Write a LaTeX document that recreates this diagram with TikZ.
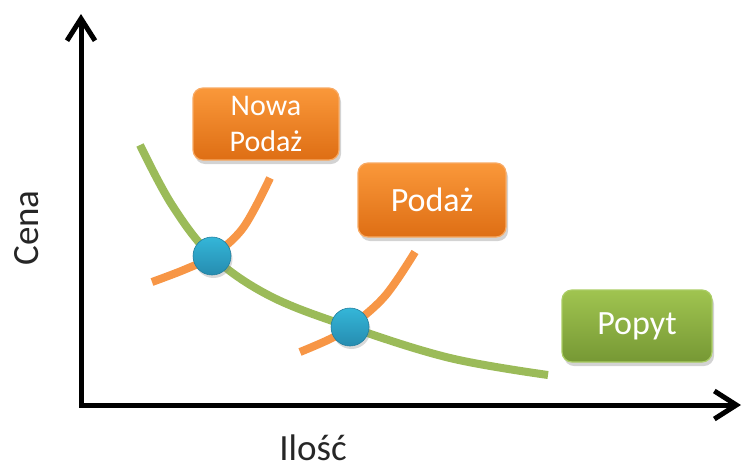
\documentclass[tikz,border=0pt]{standalone}
\usepackage{fontspec}
\setmainfont{Carlito}
\usetikzlibrary{arrows.meta,shadows}
\definecolor{supplyc}{RGB}{247,150,70}
\definecolor{demandc}{RGB}{155,187,89}
\definecolor{orgtop}{RGB}{250,152,58}
\definecolor{orgbot}{RGB}{222,110,20}
\definecolor{orgline}{RGB}{248,170,100}
\definecolor{grntop}{RGB}{160,196,80}
\definecolor{grnbot}{RGB}{118,152,52}
\definecolor{grnline}{RGB}{170,205,100}
\definecolor{blutop}{RGB}{52,182,216}
\definecolor{blubot}{RGB}{38,140,176}
\tikzset{
  axis/.style={line width=5pt, line join=miter, {Straight Barb[length=22pt,width=28pt]}-{Straight Barb[length=22pt,width=28pt]}},
  curve/.style={line width=8pt},
  lbl/.style={font=\fontsize{37}{40}\selectfont, text=black!85},
  box/.style={rounded corners=10pt, minimum width=146pt, minimum height=72pt, align=center,
    text=white, draw, line width=1.2pt,
    drop shadow={opacity=0.35, shadow xshift=2pt, shadow yshift=-4pt}},
  obox/.style={box, top color=orgtop, bottom color=orgbot, draw=orgline},
  gbox/.style={box, top color=grntop, bottom color=grnbot, draw=grnline},
  dot/.style={circle, minimum size=38pt, inner sep=0pt, top color=blutop, bottom color=blubot,
    draw=blubot!90!black, line width=0.6pt,
    drop shadow={opacity=0.3, shadow xshift=1.5pt, shadow yshift=-3pt}}
}
\begin{document}
\begin{tikzpicture}[x=1pt,y=-1pt]
\useasboundingbox (0,0) rectangle (742,472);
% axes
\coordinate (ytop) at (81,14);
\coordinate (orig) at (81,405);
\coordinate (xend) at (741,405);
\draw[axis] (ytop) -- (orig) -- (xend);
\node[lbl, rotate=90] (cena) at (27,228) {Cena};
\node[lbl] (ilosc) at (313,448) {Ilość};
% demand curve
\draw[curve, demandc] plot[smooth, tension=0.6] coordinates {(140,145) (172,205) (212,256) (270,296) (350,327) (450,358) (548,375)};
% supply curves
\draw[curve, supplyc] plot[smooth, tension=0.6] coordinates {(152,282) (186,269) (212,256) (243,228) (270,178)};
\draw[curve, supplyc] plot[smooth, tension=0.6] coordinates {(300,352) (330,339) (350,327) (385,296) (415,252)};
% intersections
\node[dot] (e1) at (212,256) {};
\node[dot] (e2) at (350,327) {};
% boxes
\node[obox, font=\fontsize{30}{36}\selectfont] (nowa) at (266,124) {Nowa\\Podaż};
\node[obox, font=\fontsize{34}{38}\selectfont, minimum width=148pt, minimum height=74pt] (podaz) at (432,200) {Podaż};
\node[gbox, font=\fontsize{34}{38}\selectfont, minimum width=150pt, minimum height=72pt] (popyt) at (637,326) {Popyt};
\end{tikzpicture}
\end{document}
